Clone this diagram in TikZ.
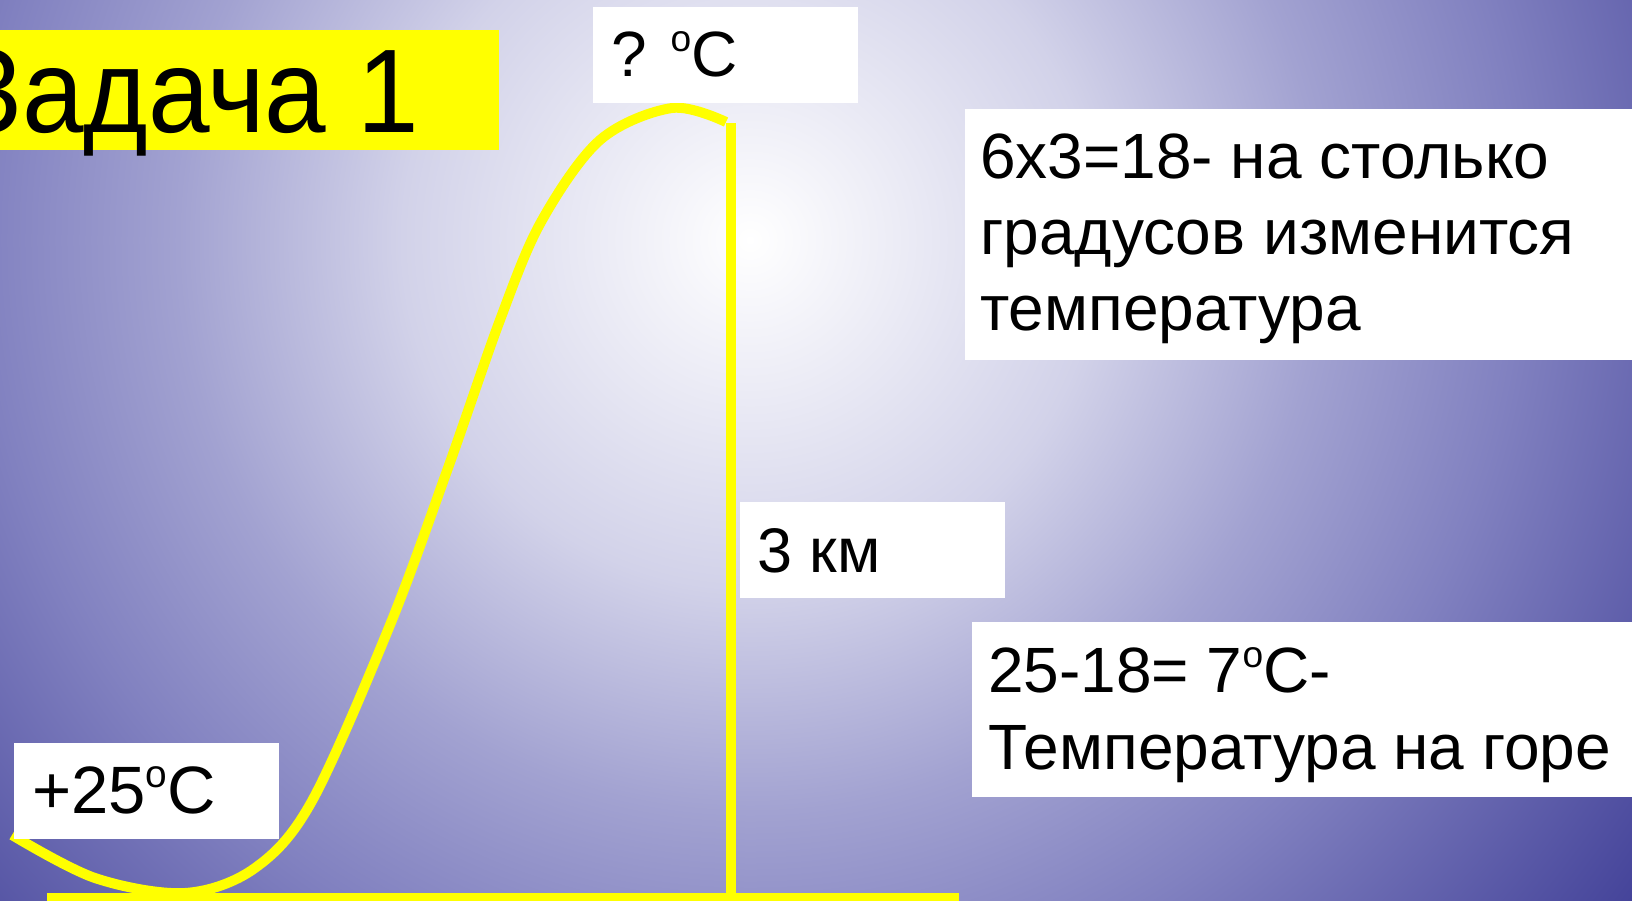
\documentclass[tikz,border=0pt]{standalone}
\usepackage{fontspec}
\setmainfont{Liberation Sans}
\newfontfamily\titolofont[FakeStretch=0.93]{Liberation Sans}
\usepackage{xcolor}
\usepackage{graphicx}
\usepackage{tikz}
\definecolor{giallo}{HTML}{FFFF00}
\definecolor{lilla1}{HTML}{D2D2E9}
\definecolor{lilla2}{HTML}{A2A2D1}
\definecolor{lilla3}{HTML}{8181C0}
\definecolor{lilla4}{HTML}{45449A}
\pgfdeclareradialshading{sfondo}{\pgfpoint{0bp}{0bp}}{color(0bp)=(white); color(7.9bp)=(lilla1); color(13bp)=(lilla2); color(17.5bp)=(lilla3); color(25bp)=(lilla4); color(50bp)=(lilla4)}
\newcommand{\gradi}{\raisebox{0.38em}{\scalebox{0.58}{o}}}

\begin{document}
\begin{tikzpicture}[x=1pt, y=-1pt,
    cartello/.style={fill=white, inner sep=0pt, anchor=north west},
    scritta/.style={inner sep=0pt, anchor=base west, align=left}]
        \useasboundingbox (0,0) rectangle (1632,900);
        % Sfondo
        \begin{scope}
            \clip (0,0) rectangle (1632,900);
            \shade[shading=sfondo] (-350,-860) rectangle (1850,1340);
        \end{scope}
        % Montagna
        \draw[giallo, line width=10pt] plot[smooth, tension=0.55] coordinates {(12,835) (95,878) (185,893) (255,868) (312,801) (390,625) (448,468) (500,320) (541,222) (600,140) (672,108) (726,122)};
        \draw[giallo, line width=10pt] (731,123) -- (731,893);
        \draw[giallo, line width=10pt] (47,898) -- (959,898);
        % Titolo
        \node[fill=giallo, anchor=north east, minimum height=120, inner xsep=80, inner ysep=0pt, text height=85pt, text depth=0pt, font=\titolofont\fontsize{119}{130}\selectfont] (titolo) at (499,30) {Задача 1};
        % Cartelli
        \node[cartello, minimum width=265, minimum height=96] (cima) at (593,7) {};
        \node[scritta, font=\fontsize{64}{72}\selectfont] (cima-t) at (611,76) {? \gradi C};
        \node[cartello, minimum width=265, minimum height=96] (base) at (14,743) {};
        \node[scritta, font=\fontsize{67}{72}\selectfont] (base-t) at (32,813) {+25\gradi C};
        \node[cartello, minimum width=265, minimum height=96] (quota) at (740,502) {};
        \node[scritta, font=\fontsize{63}{72}\selectfont] (quota-t) at (757,572) {3 км};
        \node[cartello, minimum width=680, minimum height=251] (calcolo) at (965,109) {};
        \node[scritta, font=\fontsize{64}{76}\selectfont] (calcolo-t) at (980,330) {6x3=18- на столько\\градусов изменится\\температура};
        \node[cartello, minimum width=680, minimum height=175] (risposta) at (972,622) {};
        \node[scritta, font=\fontsize{64}{77}\selectfont] (risposta-t) at (988,769) {25-18= 7\gradi C-\\Температура на горе};
    \end{tikzpicture}
\end{document}
